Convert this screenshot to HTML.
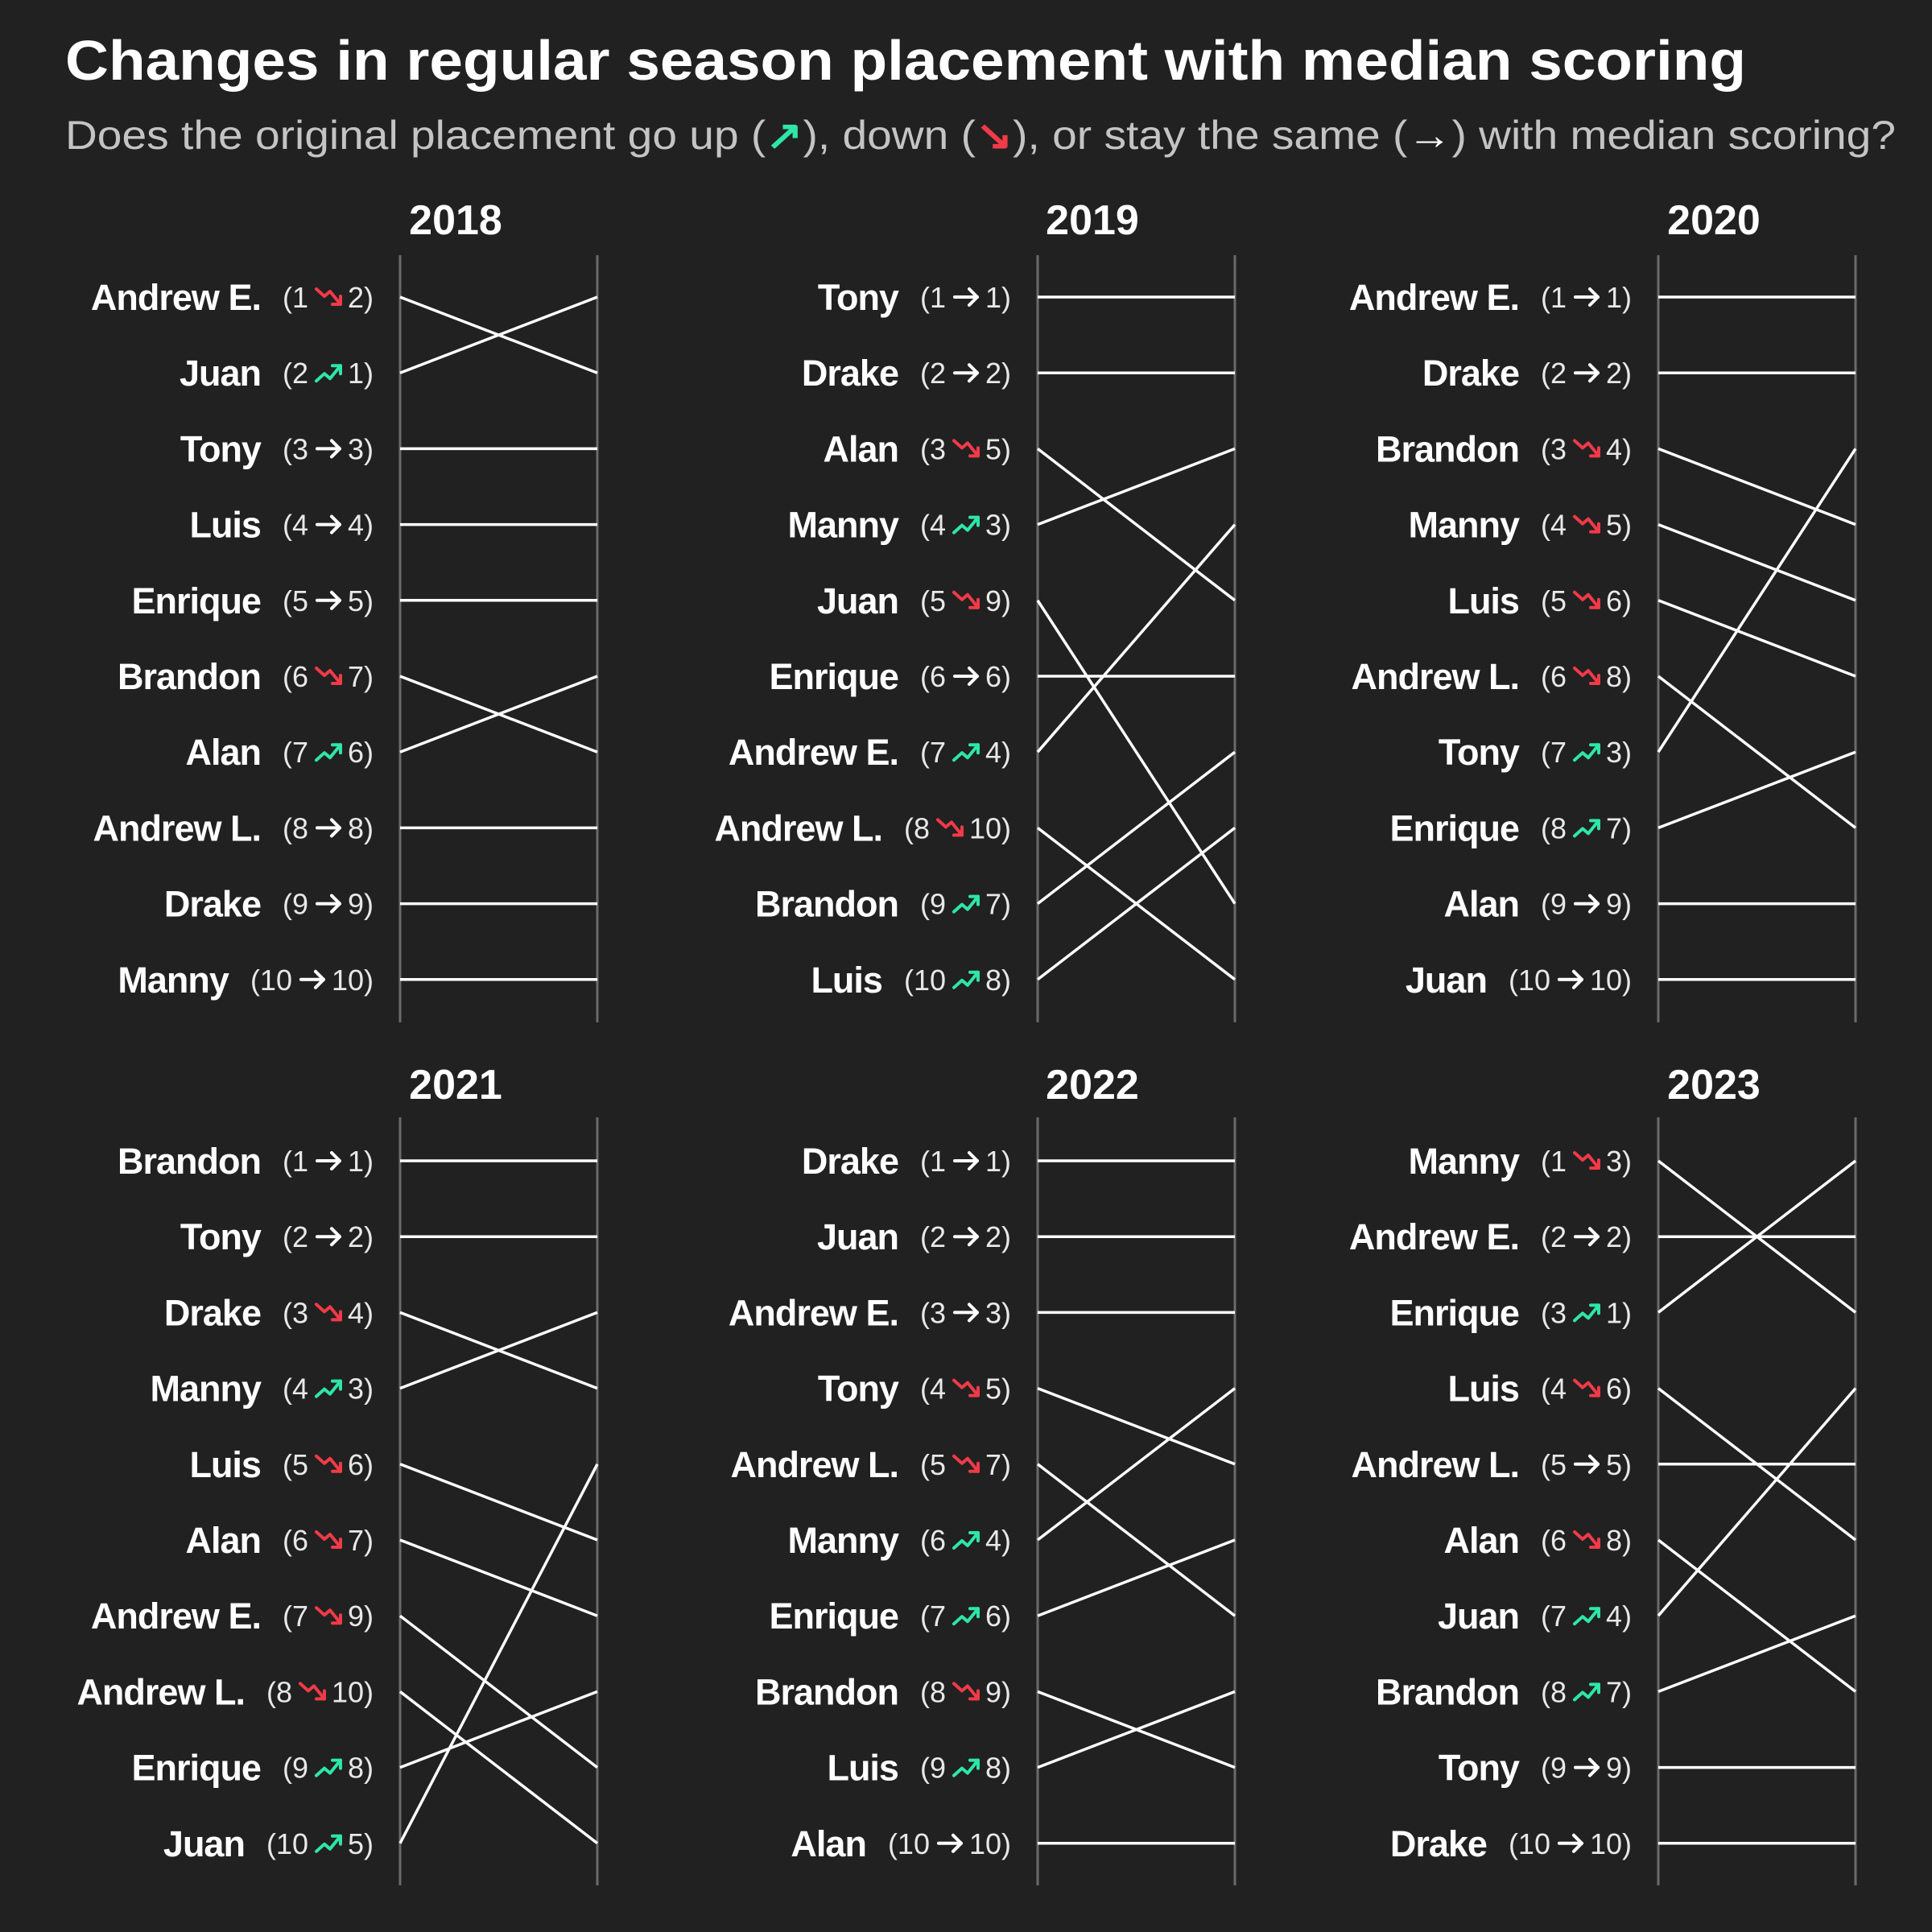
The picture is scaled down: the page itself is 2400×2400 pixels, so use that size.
<!DOCTYPE html>
<html><head><meta charset="utf-8"><style>
html,body{margin:0;padding:0;background:#212121;}
svg{display:block;font-family:"Liberation Sans",sans-serif;}
</style></head><body>
<svg id="c" width="2400" height="2400" viewBox="0 0 2400 2400" xmlns="http://www.w3.org/2000/svg">
<rect width="2400" height="2400" fill="#212121"/>
<text x="81" y="99" font-size="70" font-weight="bold" fill="#ffffff" textLength="2088" lengthAdjust="spacingAndGlyphs">Changes in regular season placement with median scoring</text>
<text x="81" y="185" font-size="50" fill="#c4c4c4" textLength="2274" lengthAdjust="spacingAndGlyphs">Does the original placement go up (<tspan fill="#2ee6a8" font-weight="bold">↗</tspan>), down (<tspan fill="#f23a48" font-weight="bold">↘</tspan>), or stay the same (<tspan fill="#ffffff" font-weight="bold">→</tspan>) with median scoring?</text>
<g id="panels"></g>
</svg>
<script>
const years = ["2018","2019","2020","2021","2022","2023"];
const names2018 = ["Andrew E.","Juan","Tony","Luis","Enrique","Brandon","Alan","Andrew L.","Drake","Manny"];
const new2018 = [2,1,3,4,5,7,6,8,9,10];
const names2019 = ["Tony","Drake","Alan","Manny","Juan","Enrique","Andrew E.","Andrew L.","Brandon","Luis"];
const new2019 = [1,2,5,3,9,6,4,10,7,8];
const names2020 = ["Andrew E.","Drake","Brandon","Manny","Luis","Andrew L.","Tony","Enrique","Alan","Juan"];
const new2020 = [1,2,4,5,6,8,3,7,9,10];
const names2021 = ["Brandon","Tony","Drake","Manny","Luis","Alan","Andrew E.","Andrew L.","Enrique","Juan"];
const new2021 = [1,2,4,3,6,7,9,10,8,5];
const names2022 = ["Drake","Juan","Andrew E.","Tony","Andrew L.","Manny","Enrique","Brandon","Luis","Alan"];
const new2022 = [1,2,3,5,7,4,6,9,8,10];
const names2023 = ["Manny","Andrew E.","Enrique","Luis","Andrew L.","Alan","Juan","Brandon","Tony","Drake"];
const new2023 = [3,2,1,6,5,8,4,7,9,10];
const allNames=[names2018,names2019,names2020,names2021,names2022,names2023];
const allNew=[new2018,new2019,new2020,new2021,new2022,new2023];

const NS="http://www.w3.org/2000/svg";
const G=document.getElementById('panels');
const axL=[497,1289,2060], axW=245;
const titleX=[566,1357,2129];
const rowTop=[369,1442], rowStep=94.2, axTop=[317,1388], axBot=[1270,2342], titleY=[291,1365];
function mk(tag,attrs,parent){const e=document.createElementNS(NS,tag);for(const k in attrs)e.setAttribute(k,attrs[k]);parent.appendChild(e);return e;}
function yOf(r,rank){return rowTop[r]+(rank-1)*rowStep;}

years.forEach((yr,p)=>{
  const col=p%3,r=Math.floor(p/3);
  const x0=axL[col],x1=x0+axW;
  const g=mk('g',{},G);
  
  
  const t=mk('text',{x:titleX[col],y:titleY[r],'text-anchor':'middle','font-size':52,'font-weight':'bold',fill:'#fff'},g);
  
  
  t.textContent=yr;
  [x0,x1].forEach((ax,i)=>{
    const l=mk('line',{x1:ax,x2:ax,y1:axTop[r],y2:axBot[r],stroke:'#6a6a6a','stroke-width':3},g);
    
    
  });
  const nm=allNames[p],nw=allNew[p];
  nm.forEach((name,i)=>{
    const o=i+1,n=nw[i];
    const ya=yOf(r,o),yb=yOf(r,n);
    const ln=mk('line',{x1:x0,y1:ya,x2:x1,y2:yb,stroke:'#ffffff','stroke-width':3.5},g);
    
    
    const R=x0-33, by=ya+13;
    const rt=mk('text',{x:R,y:by,'text-anchor':'end','font-size':36,fill:'#e8e8e8'},g);
    
    
    rt.textContent=n+')';
    const w2=rt.getComputedTextLength();
    const iw=34, ix=R-w2-7-iw;
    const color=n<o?'#2ee6a8':(n>o?'#f23a48':'#ffffff');
    const ic=mk('g',{transform:`translate(${ix},${ya})`,fill:'none',stroke:color,'stroke-width':4,'stroke-linecap':'round','stroke-linejoin':'round'},g);
    
    
    if(n<o){mk('polyline',{points:'2,10 12,1 19,7 32,-9'},ic);mk('polyline',{points:'22,-9 32,-9 32,1'},ic);}
    else if(n>o){mk('polyline',{points:'2,-10 12,-1 19,-7 32,9'},ic);mk('polyline',{points:'22,9 32,9 32,-1'},ic);}
    else{mk('line',{x1:3,y1:0,x2:31,y2:0},ic);mk('polyline',{points:'21,-10 31,0 21,10'},ic);}
    const lt=mk('text',{x:ix-8,y:by,'text-anchor':'end','font-size':36,fill:'#e8e8e8'},g);
    
    
    lt.textContent='('+o;
    const w1=lt.getComputedTextLength();
    const nt=mk('text',{x:ix-8-w1-27,y:ya+16,'text-anchor':'end','font-size':45,'font-weight':'bold',fill:'#ffffff','letter-spacing':-1},g);
    
    
    nt.textContent=name;
  });
});
</script>
</body></html>
